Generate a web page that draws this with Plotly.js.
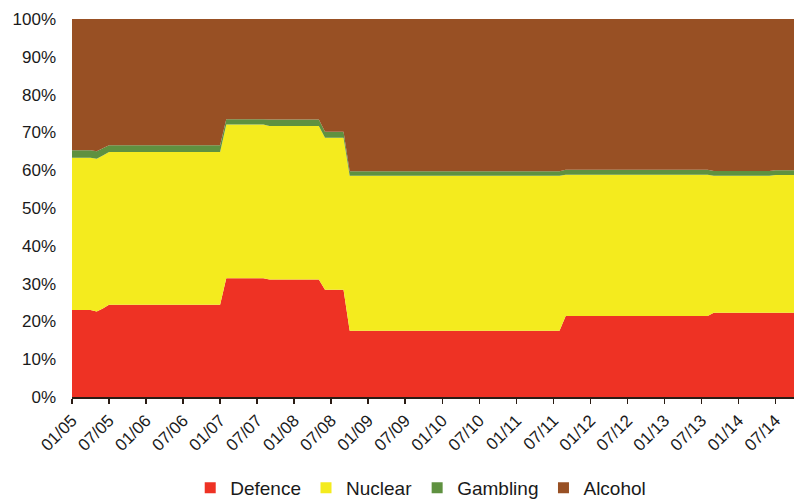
<!DOCTYPE html>
<html>
<head>
<meta charset="utf-8">
<script src="https://cdn.plot.ly/plotly-3.0.1.min.js"></script>
<style>html,body{margin:0;padding:0;background:#fff;}#chart{width:794px;height:499px;}</style>
</head>
<body>
<div id="chart"></div>
<script>
// Months Jan 2005 .. Oct 2014 (index positions on the category axis)
const months = [
"01/05","02/05","03/05","04/05","05/05","06/05","07/05","08/05","09/05","10/05","11/05","12/05",
"01/06","02/06","03/06","04/06","05/06","06/06","07/06","08/06","09/06","10/06","11/06","12/06",
"01/07","02/07","03/07","04/07","05/07","06/07","07/07","08/07","09/07","10/07","11/07","12/07",
"01/08","02/08","03/08","04/08","05/08","06/08","07/08","08/08","09/08","10/08","11/08","12/08",
"01/09","02/09","03/09","04/09","05/09","06/09","07/09","08/09","09/09","10/09","11/09","12/09",
"01/10","02/10","03/10","04/10","05/10","06/10","07/10","08/10","09/10","10/10","11/10","12/10",
"01/11","02/11","03/11","04/11","05/11","06/11","07/11","08/11","09/11","10/11","11/11","12/11",
"01/12","02/12","03/12","04/12","05/12","06/12","07/12","08/12","09/12","10/12","11/12","12/12",
"01/13","02/13","03/13","04/13","05/13","06/13","07/13","08/13","09/13","10/13","11/13","12/13",
"01/14","02/14","03/14","04/14","05/14","06/14","07/14","08/14","09/14","10/14"
];

const tickLabels = ["01/05","07/05","01/06","07/06","01/07","07/07","01/08","07/08","01/09","07/09",
"01/10","07/10","01/11","07/11","01/12","07/12","01/13","07/13","01/14","07/14"];

const defence = [
23.0,23.0,23.0,23.0,22.6,23.4,24.4,24.4,24.4,24.4,24.4,24.4,
24.4,24.4,24.4,24.4,24.4,24.4,24.4,24.4,24.4,24.4,24.4,24.4,
24.4,31.4,31.4,31.4,31.4,31.4,31.4,31.4,31.1,31.1,31.1,31.1,
31.1,31.1,31.1,31.1,31.1,28.4,28.4,28.4,28.4,17.5,17.5,17.5,
17.5,17.5,17.5,17.5,17.5,17.5,17.5,17.5,17.5,17.5,17.5,17.5,
17.5,17.5,17.5,17.5,17.5,17.5,17.5,17.5,17.5,17.5,17.5,17.5,
17.5,17.5,17.5,17.5,17.5,17.5,17.5,17.5,21.4,21.4,21.4,21.4,
21.4,21.4,21.4,21.4,21.4,21.4,21.4,21.4,21.4,21.4,21.4,21.4,
21.4,21.4,21.4,21.4,21.4,21.4,21.4,21.4,22.3,22.3,22.3,22.3,
22.3,22.3,22.3,22.3,22.3,22.3,22.3,22.3,22.3,22.3
];

const nuclear = [
40.3,40.3,40.3,40.3,40.4,40.5,40.4,40.4,40.4,40.4,40.4,40.4,
40.4,40.4,40.4,40.4,40.4,40.4,40.4,40.4,40.4,40.4,40.4,40.4,
40.4,40.7,40.7,40.7,40.7,40.7,40.7,40.7,40.6,40.6,40.6,40.6,
40.6,40.6,40.6,40.6,40.6,40.2,40.2,40.2,40.2,41.0,41.0,41.0,
41.0,41.0,41.0,41.0,41.0,41.0,41.0,41.0,41.0,41.0,41.0,41.0,
41.0,41.0,41.0,41.0,41.0,41.0,41.0,41.0,41.0,41.0,41.0,41.0,
41.0,41.0,41.0,41.0,41.0,41.0,41.0,41.0,37.4,37.4,37.4,37.4,
37.4,37.4,37.4,37.4,37.4,37.4,37.4,37.4,37.4,37.4,37.4,37.4,
37.4,37.4,37.4,37.4,37.4,37.4,37.4,37.4,36.2,36.2,36.2,36.2,
36.2,36.2,36.2,36.2,36.2,36.2,36.4,36.4,36.4,36.4
];

const gambling = [
2.0,2.0,2.0,2.0,2.0,1.9,1.8,1.8,1.8,1.8,1.8,1.8,
1.8,1.8,1.8,1.8,1.8,1.8,1.8,1.8,1.8,1.8,1.8,1.8,
1.8,1.4,1.4,1.4,1.4,1.4,1.4,1.4,1.7,1.7,1.7,1.7,
1.7,1.7,1.7,1.7,1.7,1.6,1.6,1.6,1.6,1.2,1.2,1.2,
1.2,1.2,1.2,1.2,1.2,1.2,1.2,1.2,1.2,1.2,1.2,1.2,
1.2,1.2,1.2,1.2,1.2,1.2,1.2,1.2,1.2,1.2,1.2,1.2,
1.2,1.2,1.2,1.2,1.2,1.2,1.2,1.2,1.3,1.3,1.3,1.3,
1.3,1.3,1.3,1.3,1.3,1.3,1.3,1.3,1.3,1.3,1.3,1.3,
1.3,1.3,1.3,1.3,1.3,1.3,1.3,1.3,1.3,1.3,1.3,1.3,
1.3,1.3,1.3,1.3,1.3,1.3,1.3,1.3,1.3,1.3
];

const alcohol = [
34.7,34.7,34.7,34.7,35.0,34.2,33.4,33.4,33.4,33.4,33.4,33.4,
33.4,33.4,33.4,33.4,33.4,33.4,33.4,33.4,33.4,33.4,33.4,33.4,
33.4,26.5,26.5,26.5,26.5,26.5,26.5,26.5,26.6,26.6,26.6,26.6,
26.6,26.6,26.6,26.6,26.6,29.8,29.8,29.8,29.8,40.3,40.3,40.3,
40.3,40.3,40.3,40.3,40.3,40.3,40.3,40.3,40.3,40.3,40.3,40.3,
40.3,40.3,40.3,40.3,40.3,40.3,40.3,40.3,40.3,40.3,40.3,40.3,
40.3,40.3,40.3,40.3,40.3,40.3,40.3,40.3,39.9,39.9,39.9,39.9,
39.9,39.9,39.9,39.9,39.9,39.9,39.9,39.9,39.9,39.9,39.9,39.9,
39.9,39.9,39.9,39.9,39.9,39.9,39.9,39.9,40.2,40.2,40.2,40.2,
40.2,40.2,40.2,40.2,40.2,40.2,40.0,40.0,40.0,40.0
];

const seriesNames = ["Defence","Nuclear","Gambling","Alcohol"];
const seriesColors = ["#EE3224","#F4EB1E","#5F9140","#985024"];
const seriesValues = [defence, nuclear, gambling, alcohol];

const xIdx = months.map((m, i) => i);
const tickIdx = tickLabels.map(t => months.indexOf(t));

const traces = [];
seriesValues.forEach((vals, k) => {
  traces.push({
    type: "scatter", mode: "none", x: xIdx, y: vals,
    stackgroup: "one", groupnorm: k === 0 ? "percent" : undefined,
    fillcolor: seriesColors[k], line: {width: 0, color: seriesColors[k]},
    name: seriesNames[k], showlegend: false, hoverinfo: "skip"
  });
});
seriesValues.forEach((vals, k) => {
  traces.push({
    type: "scatter", mode: "markers", x: [null], y: [null],
    marker: {symbol: "square", size: 11, color: seriesColors[k]},
    name: seriesNames[k], showlegend: true
  });
});

const layout = {
  width: 794, height: 499,
  margin: {l: 72, r: 0, t: 19, b: 102},
  paper_bgcolor: "#fff", plot_bgcolor: "#fff",
  font: {family: "Liberation Sans, Arial, sans-serif", color: "#1a1a1a"},
  showlegend: true,
  legend: {orientation: "h", x: 0.483, xanchor: "center", yref: "container", y: 0.022, yanchor: "middle",
           font: {size: 19, color: "#1a1a1a"}, itemwidth: 30, tracegroupgap: 0, traceorder: "normal"},
  xaxis: {
    automargin: false,
    range: [0, months.length - 1], tickmode: "array", tickvals: tickIdx, ticktext: tickLabels,
    tickangle: -45, ticks: "outside", ticklen: 5, tickwidth: 1.5, tickcolor: "#2a1c14",
    showline: true, linecolor: "#2a1c14", linewidth: 2, showgrid: false, zeroline: false,
    tickfont: {size: 17, color: "#1a1a1a"}, fixedrange: true
  },
  yaxis: {
    automargin: false,
    range: [0, 100], dtick: 10, ticksuffix: "%", showgrid: false, zeroline: false,
    showline: false, ticks: "", ticklabelstandoff: 15, tickfont: {size: 17, color: "#1a1a1a"}, fixedrange: true
  }
};

Plotly.newPlot("chart", traces, layout, {displayModeBar: false, staticPlot: true});
</script>
</body>
</html>
